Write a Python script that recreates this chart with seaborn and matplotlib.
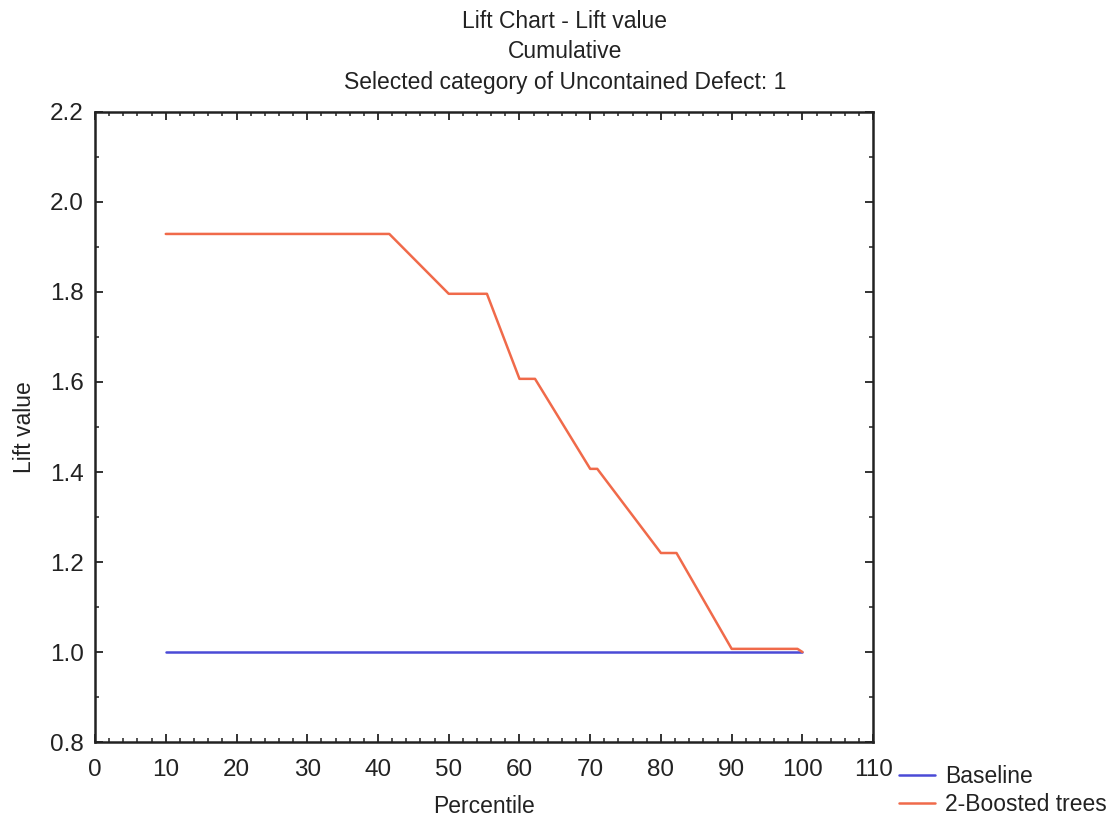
import numpy as np
import pandas as pd
import matplotlib
matplotlib.use("Agg")
import matplotlib.pyplot as plt
import seaborn as sns
from matplotlib.ticker import MultipleLocator
from matplotlib.lines import Line2D

baseline_x = [10, 100]
baseline_y = [1.0, 1.0]
boosted_x = [10, 41.6, 50, 55.4, 60, 62.2, 70, 71.0, 80, 82.2, 90, 99.3, 100]
boosted_y = [1.929, 1.929, 1.796, 1.796, 1.607, 1.607, 1.407, 1.407, 1.22, 1.22, 1.007, 1.007, 1.0]
series_names = ["Baseline", "2-Boosted trees"]
colors = ["#4a4ad6", "#f06a4a"]
title_lines = ["Lift Chart - Lift value", "Cumulative", "Selected category of Uncontained Defect: 1"]

df = pd.concat([
    pd.DataFrame({"Percentile": baseline_x, "Lift value": baseline_y, "series": series_names[0]}),
    pd.DataFrame({"Percentile": boosted_x, "Lift value": boosted_y, "series": series_names[1]}),
])

sns.set_style("white")
plt.rcParams['font.family'] = ['Liberation Sans', 'DejaVu Sans']
txt_color = "#222222"

fig = plt.figure(figsize=(11.18, 8.21), dpi=100)
ax = fig.add_axes([0.085, 0.0962, 0.696, 0.7674])

sns.lineplot(data=df, x="Percentile", y="Lift value", hue="series", hue_order=series_names,
             palette=colors, sort=False, estimator=None, units="series", ax=ax, linewidth=1.8, legend=False)

ax.set_xlim(0, 110)
ax.set_ylim(0.8, 2.2)
ax.set_xticks(np.arange(0, 111, 10))
ax.xaxis.set_minor_locator(MultipleLocator(2))
yt = np.round(np.arange(0.8, 2.21, 0.2), 1)
ax.set_yticks(yt)
ax.set_yticklabels([f"{v:.1f}" for v in yt])
ax.yaxis.set_minor_locator(MultipleLocator(0.1))
ax.tick_params(which="both", direction="in", top=True, right=True, bottom=True, left=True,
               color=txt_color, labelcolor=txt_color)
ax.tick_params(which="major", length=6, width=1.3, labelsize=17.5, pad=8)
ax.tick_params(axis="x", which="major", pad=12)
ax.tick_params(which="minor", length=3, width=1.1)
for s in ax.spines.values():
    s.set_color(txt_color)
    s.set_linewidth(1.8)

ax.set_xlabel("Percentile", fontsize=16.5, labelpad=10, color=txt_color)
ax.set_ylabel("Lift value", fontsize=16.5, labelpad=10, color=txt_color)

title_y = [21, 51, 82]
for t, yp in zip(title_lines, title_y):
    fig.text(565 / 1118, 1 - yp / 821, t, ha="center", va="center", fontsize=16.5, color=txt_color)

handles = [Line2D([0], [0], color=c, lw=1.8) for c in colors]
fig.legend(handles, series_names, loc="upper left", bbox_to_anchor=(899 / 1118, 1 - 765 / 821), frameon=False,
           fontsize=16.5, handlelength=1.55, handletextpad=0.45, labelspacing=0.22, borderaxespad=0,
           borderpad=0, labelcolor=txt_color)

fig.savefig("out.png", dpi=100)
